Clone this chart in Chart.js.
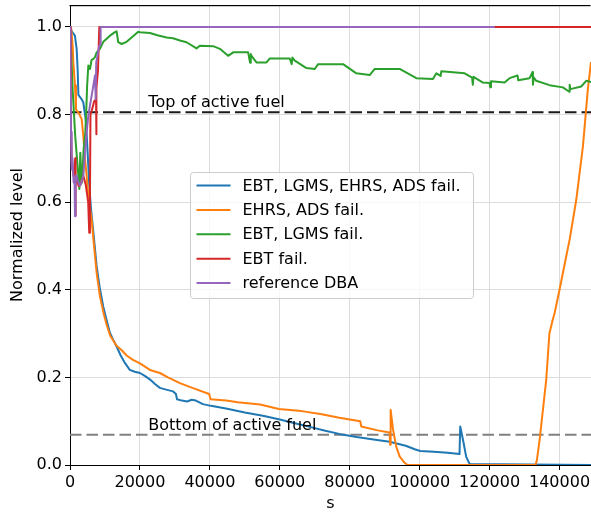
<!DOCTYPE html>
<html>
<head>
<meta charset="utf-8">
<script src="https://cdn.jsdelivr.net/npm/chart.js@4.4.0/dist/chart.umd.min.js"></script>
<style>
  html, body { margin: 0; padding: 0; background: #fff; }
  #chart { display: block; }
</style>
</head>
<body>
<canvas id="chart" width="591" height="514"></canvas>
<script>
// series values (time in s, normalized level)
const allFailTime = [0,500,1400,1900,2200,2400,3300,3800,4300,4600,5000,5500,6000,6700,7600,8500,9500,10500,11400,12400,13300,14500,15700,17100,18500,20000,21500,22900,24300,25700,27500,29500,30300,30600,32000,33500,34800,36000,38000,40300,44600,50000,55500,60000,64000,68600,73000,77000,82000,87800,91400,96000,98600,100200,104000,108000,111400,111600,112400,113300,114300,149000];
const allFailLevel = [1.0,0.99,0.98,0.95,0.90,0.845,0.835,0.828,0.80,0.78,0.72,0.64,0.585,0.53,0.455,0.405,0.362,0.33,0.302,0.285,0.271,0.25,0.233,0.217,0.213,0.21,0.203,0.195,0.185,0.176,0.172,0.168,0.162,0.150,0.147,0.145,0.149,0.147,0.139,0.135,0.129,0.12,0.112,0.104,0.096,0.087,0.078,0.071,0.064,0.057,0.053,0.044,0.036,0.032,0.030,0.028,0.025,0.088,0.057,0.019,0.002,0.0];

const ehrsAdsTime = [0,300,760,950,1430,1710,2000,2380,2860,3330,3810,4290,4760,5240,6190,6760,7600,8570,9500,10480,11500,13300,14800,16200,18000,20000,22860,25710,28000,31430,35000,39800,40200,44660,48000,54370,59760,66240,72000,77020,83000,83300,88000,91400,91550,91700,92400,93300,94300,95700,96500,133100,133500,134300,136200,137100,138000,138600,140000,141500,142900,144800,146700,148100,149000];
const ehrsAdsLevel = [1.0,1.0,0.957,0.919,0.866,0.812,0.808,0.805,0.797,0.79,0.751,0.698,0.66,0.614,0.56,0.51,0.44,0.385,0.35,0.32,0.295,0.272,0.262,0.25,0.24,0.232,0.217,0.21,0.2,0.187,0.176,0.162,0.150,0.147,0.143,0.138,0.128,0.123,0.116,0.108,0.100,0.088,0.079,0.074,0.046,0.126,0.080,0.042,0.019,0.005,0.0,0.0,0.01,0.057,0.195,0.30,0.33,0.347,0.40,0.46,0.515,0.606,0.728,0.858,0.92];

const ebtLgmsTime = [0,300,800,1500,2200,2670,2950,3200,3430,3900,4380,4700,4900,5240,5710,6190,6670,7140,7620,8570,9520,10480,11430,12860,13330,13800,14760,16190,17620,19520,20000,22860,25000,27620,29500,31430,33330,36190,37140,40950,42860,45240,46670,50950,51500,51700,51900,53330,56190,57140,62860,63400,63600,64290,67620,70000,70950,78100,81900,85710,87140,94290,99050,103810,104760,106000,106200,112860,115000,115200,115400,118100,120000,120200,120400,124290,125710,128000,128200,131430,132300,132400,132600,133330,137140,140950,142800,142900,143100,146190,147620,149000];
const ebtLgmsLevel = [1.0,0.95,0.85,0.75,0.68,0.63,0.713,0.66,0.645,0.721,0.759,0.82,0.866,0.912,0.904,0.925,0.927,0.931,0.942,0.95,0.966,0.973,0.98,0.988,0.99,0.965,0.961,0.966,0.976,0.989,0.988,0.986,0.981,0.976,0.974,0.969,0.965,0.951,0.957,0.956,0.95,0.934,0.942,0.942,0.918,0.938,0.934,0.919,0.919,0.928,0.928,0.915,0.93,0.923,0.906,0.904,0.915,0.915,0.894,0.89,0.904,0.904,0.883,0.881,0.894,0.888,0.899,0.894,0.884,0.868,0.886,0.873,0.872,0.862,0.876,0.873,0.883,0.889,0.878,0.883,0.897,0.868,0.885,0.877,0.867,0.862,0.852,0.868,0.858,0.864,0.877,0.874];

const ebtTime = [0,200,500,1000,1500,1520,1700,2480,3000,3800,4500,5200,5500,5700,5850,6200,6900,7450,7500,7600,8000,8380,149000];
const ebtLevel = [1.0,0.80,0.69,0.66,0.70,0.57,0.66,0.637,0.64,0.66,0.64,0.60,0.53,0.60,0.80,0.808,0.83,0.835,0.755,0.86,0.90,1.0,1.0];

const refTime = [0,150,290,480,700,1050,1300,1430,1600,1900,2380,2860,3300,3810,4290,4760,5240,5700,6190,6670,7140,7350,7500,8380,8700,8760,121500];
const refLevel = [1.0,0.88,0.76,0.675,0.70,0.645,0.65,0.568,0.66,0.66,0.645,0.637,0.645,0.66,0.713,0.76,0.797,0.82,0.843,0.866,0.889,0.835,0.919,0.957,0.96,1.0,1.0];

const seriesLabels = ['EBT, LGMS, EHRS, ADS fail.', 'EHRS, ADS fail.', 'EBT, LGMS fail.', 'EBT fail.', 'reference DBA'];
const seriesColors = ['#1f77b4', '#ff7f0e', '#2ca02c', '#d62728', '#9467bd'];

const fuelLabels = ['Top of active fuel', 'Bottom of active fuel'];
const fuelLevels = [0.805, 0.069];
const fuelColors = ['#1a1a1a', '#808080'];

const xTickValues = [0, 20000, 40000, 60000, 80000, 100000, 120000, 140000];
const yTickValues = [0.0, 0.2, 0.4, 0.6, 0.8, 1.0];
const xRange = [0, 149000];
const yRange = [0, 1.05];

const FONT = 'DejaVu Sans';
const FSIZE = 16;
Chart.defaults.font.family = FONT;
Chart.defaults.color = '#000';

function pts(xs, ys) {
  return xs.map((x, i) => ({ x: x, y: ys[i] }));
}

const seriesData = [
  pts(allFailTime, allFailLevel),
  pts(ehrsAdsTime, ehrsAdsLevel),
  pts(ebtLgmsTime, ebtLgmsLevel),
  pts(ebtTime, ebtLevel),
  pts(refTime, refLevel)
];

const datasets = [];
fuelLevels.forEach((lvl, i) => {
  datasets.push({
    label: fuelLabels[i],
    data: [{ x: xRange[0], y: lvl }, { x: xRange[1], y: lvl }],
    borderColor: fuelColors[i],
    borderWidth: 2,
    borderDash: [11.5, 5],
    pointRadius: 0,
    order: 10
  });
});
seriesData.forEach((d, i) => {
  datasets.push({
    label: seriesLabels[i],
    data: d,
    borderColor: seriesColors[i],
    borderWidth: 2,
    borderJoinStyle: 'round',
    pointRadius: 0,
    tension: 0,
    order: 5 - i
  });
});

// text labels on the dashed lines
const fuelText = {
  id: 'fuelText',
  afterDatasetsDraw(chart) {
    const c = chart.ctx, xs = chart.scales.x, ys = chart.scales.y;
    c.save();
    c.font = FSIZE + 'px "' + FONT + '"';
    c.fillStyle = '#000';
    c.textBaseline = 'alphabetic';
    fuelLevels.forEach((lvl, i) => {
      c.fillText(fuelLabels[i], xs.getPixelForValue(22400), ys.getPixelForValue(lvl) - 5);
    });
    c.restore();
  }
};

// matplotlib-like legend box inside the axes, plus the top spine
const boxLegend = {
  id: 'boxLegend',
  afterDraw(chart) {
    const c = chart.ctx;
    const bx = 190.5, by = 172.5, bw = 283, bh = 126, r = 3;
    c.save();
    c.beginPath();
    c.moveTo(bx + r, by);
    c.lineTo(bx + bw - r, by);
    c.quadraticCurveTo(bx + bw, by, bx + bw, by + r);
    c.lineTo(bx + bw, by + bh - r);
    c.quadraticCurveTo(bx + bw, by + bh, bx + bw - r, by + bh);
    c.lineTo(bx + r, by + bh);
    c.quadraticCurveTo(bx, by + bh, bx, by + bh - r);
    c.lineTo(bx, by + r);
    c.quadraticCurveTo(bx, by, bx + r, by);
    c.closePath();
    c.fillStyle = 'rgba(255,255,255,0.8)';
    c.fill();
    c.strokeStyle = '#cccccc';
    c.lineWidth = 1;
    c.stroke();
    c.font = FSIZE + 'px "' + FONT + '"';
    c.textBaseline = 'middle';
    seriesLabels.forEach((lab, i) => {
      const y = by + 13 + i * 24.4;
      c.strokeStyle = seriesColors[i];
      c.lineWidth = 2;
      c.beginPath();
      c.moveTo(bx + 6, y);
      c.lineTo(bx + 40, y);
      c.stroke();
      c.fillStyle = '#000';
      c.fillText(lab, bx + 52, y + 1);
    });
    // top spine
    const a = chart.chartArea;
    const yTop = Math.round(chart.scales.y.getPixelForValue(yRange[1]));
    c.fillStyle = '#000';
    c.fillRect(a.left - 0.5, yTop, chart.width - a.left, 1.2);
    c.restore();
  }
};

new Chart(document.getElementById('chart'), {
  type: 'line',
  data: { datasets: datasets },
  options: {
    responsive: false,
    animation: false,
    devicePixelRatio: 1,
    layout: { padding: { top: 5, right: 0, left: 0, bottom: 0 } },
    plugins: { legend: { display: false }, tooltip: { enabled: false } },
    scales: {
      x: {
        type: 'linear',
        min: xRange[0],
        max: xRange[1],
        afterBuildTicks: s => { s.ticks = xTickValues.map(v => ({ value: v })); },
        afterFit: s => { s.height = 49; s.paddingLeft = 0; s.paddingRight = 0; },
        ticks: { font: { size: FSIZE }, color: '#000', padding: 3, maxRotation: 0, autoSkip: false, callback: v => String(v) },
        grid: { color: '#dcdcdc', lineWidth: 1, tickColor: '#000', tickLength: 5 },
        border: { color: '#000', width: 1 },
        title: { display: true, text: 's', font: { size: FSIZE }, color: '#000', padding: { top: 2, bottom: 1 } }
      },
      y: {
        type: 'linear',
        min: yRange[0],
        max: yRange[1],
        afterBuildTicks: s => { s.ticks = yTickValues.map(v => ({ value: v })); },
        afterFit: s => { s.width = 70; s.paddingTop = 0; s.paddingBottom = 0; },
        ticks: { font: { size: FSIZE }, color: '#000', padding: 3, callback: v => v.toFixed(1) },
        grid: { color: '#dcdcdc', lineWidth: 1, tickColor: '#000', tickLength: 5 },
        border: { color: '#000', width: 1 },
        title: { display: true, text: 'Normalized level', font: { size: FSIZE }, color: '#000', padding: { top: 8, bottom: 2 } }
      }
    }
  },
  plugins: [fuelText, boxLegend]
});
</script>
</body>
</html>
